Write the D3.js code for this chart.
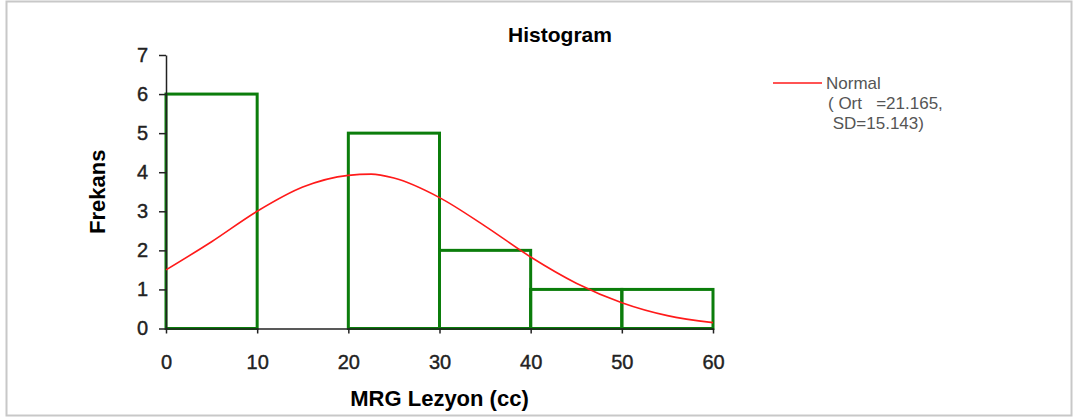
<!DOCTYPE html>
<html>
<head>
<meta charset="utf-8">
<script src="https://cdn.jsdelivr.net/npm/d3@7"></script>
<style>
  body { margin: 0; background: #fff; }
  svg text { font-family: "Liberation Sans", Arial, sans-serif; }
</style>
</head>
<body>
<div id="chart"></div>
<script>
/***** data *****/
var binStarts = [0, 10, 20, 30, 40, 50];
var binWidth = 10;
var counts = [6, 0, 5, 2, 1, 1];

// normal curve
var curveX = [0, 5, 10, 15, 20, 22.5, 25, 30, 35, 40, 45, 50, 55, 60];
var curveY = [1.5, 2.22, 3.0, 3.62, 3.92, 3.95, 3.85, 3.35, 2.62, 1.83, 1.16, 0.66, 0.33, 0.15];

var xTicks = [0, 10, 20, 30, 40, 50, 60];
var yTicks = [0, 1, 2, 3, 4, 5, 6, 7];
var legendLines = ["Normal", "( Ort   =21.165,", " SD=15.143)"];

/***** chart *****/
var width = 1073, height = 419;
var margin = {top: 55, right: 360, bottom: 90.5, left: 166};

var svg = d3.select("#chart").append("svg")
  .attr("width", width)
  .attr("height", height);

// outer frame
svg.append("rect")
  .attr("x", 6.5).attr("y", 1.5)
  .attr("width", 1065).attr("height", 414)
  .attr("fill", "#fff")
  .attr("stroke", "#c8c8c8")
  .attr("stroke-width", 2);

var x = d3.scaleLinear().domain([0, 60]).range([margin.left, width - margin.right]);
var y = d3.scaleLinear().domain([0, 7]).range([height - margin.bottom, margin.top]);

//bars
svg.selectAll("rect.bar")
  .data(binStarts)
  .enter().append("rect")
  .attr("class", "bar")
  .attr("x", function(d) { return x(d); })
  .attr("y", function(d, i) { return y(counts[i]); })
  .attr("width", function(d) { return x(d + binWidth) - x(d); })
  .attr("height", function(d, i) { return y(0) - y(counts[i]); })
  .attr("fill", "none")
  .attr("stroke", "#0b7d0b")
  .attr("stroke-width", 3);

//axes
var xAxis = d3.axisBottom(x).tickValues(xTicks).tickFormat(d3.format("d"))
  .tickSizeInner(5).tickSizeOuter(0).tickPadding(21);
var yAxis = d3.axisLeft(y).tickValues(yTicks).tickFormat(d3.format("d"))
  .tickSizeInner(7).tickSizeOuter(0).tickPadding(11);

var gx = svg.append("g")
  .attr("transform", "translate(0," + y(0) + ")")
  .call(xAxis);
var gy = svg.append("g")
  .attr("transform", "translate(" + x(0) + ",0)")
  .call(yAxis);

[gx, gy].forEach(function(g) {
  g.attr("font-size", 20).attr("font-family", "'Liberation Sans', Arial, sans-serif");
  g.select(".domain").attr("stroke", "#222").attr("stroke-width", 1.5);
  g.selectAll(".tick line").attr("stroke", "#222").attr("stroke-width", 1.5);
  g.selectAll(".tick text").attr("fill", "#222")
    .attr("stroke", "#222").attr("stroke-width", 0.4);
});

//normal curve
var line = d3.line()
  .x(function(d, i) { return x(curveX[i]); })
  .y(function(d) { return y(d); })
  .curve(d3.curveMonotoneX);

svg.append("path")
  .datum(curveY)
  .attr("d", line)
  .attr("fill", "none")
  .attr("stroke", "#ff1a1a")
  .attr("stroke-width", 1.6);

//titles
svg.append("text")
  .attr("x", 560).attr("y", 42)
  .attr("text-anchor", "middle")
  .attr("font-size", 21).attr("font-weight", "bold")
  .text("Histogram");

svg.append("text")
  .attr("x", x(30)).attr("y", 406)
  .attr("text-anchor", "middle")
  .attr("font-size", 22).attr("font-weight", "bold")
  .text("MRG Lezyon (cc)");

svg.append("text")
  .attr("transform", "translate(105," + y(3.5) + ") rotate(-90)")
  .attr("text-anchor", "middle")
  .attr("font-size", 22).attr("font-weight", "bold")
  .text("Frekans");

//legend
var legend = svg.append("g").attr("transform", "translate(773,83)");
legend.append("line")
  .attr("x1", 0).attr("x2", 49)
  .attr("y1", 0).attr("y2", 0)
  .attr("stroke", "#ff1a1a").attr("stroke-width", 1.6);
legend.selectAll("text")
  .data(legendLines)
  .enter().append("text")
  .attr("x", function(d, i) { return i === 0 ? 53 : 55; })
  .attr("y", function(d, i) { return 6 + i * 20; })
  .attr("font-size", 17)
  .attr("fill", "#555")
  .style("white-space", "pre")
  .attr("xml:space", "preserve")
  .text(function(d) { return d; });
</script>
</body>
</html>
